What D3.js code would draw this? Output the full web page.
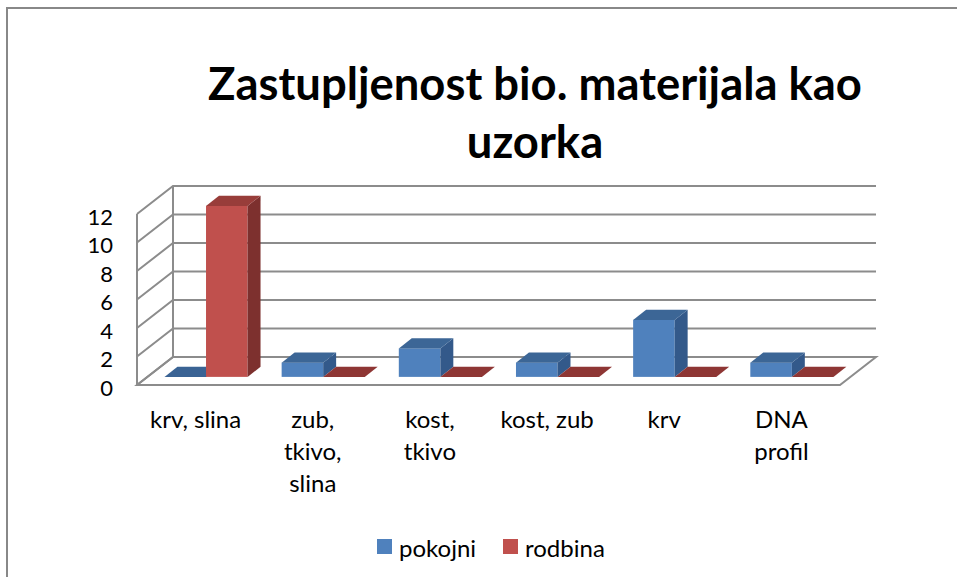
<!DOCTYPE html>
<html>
<head>
<meta charset="utf-8">
<script src="https://cdn.jsdelivr.net/npm/d3@7"></script>
<style>
  body { margin: 0; background: #fff; }
  svg { display: block; }
  text { font-family: Lato, "Open Sans", sans-serif; fill: #000; }
</style>
</head>
<body>
<div id="chart"></div>
<script>
// data
var categories = ["krv, slina", "zub, tkivo, slina", "kost, tkivo", "kost, zub", "krv", "DNA profil"];
var seriesNames = ["pokojni", "rodbina"];
var pokojni = [0, 1, 2, 1, 4, 1];
var rodbina = [12, 0, 0, 0, 0, 0];
var yTicks = [0, 2, 4, 6, 8, 10, 12];
var titleLines = ["Zastupljenost bio. materijala kao", "uzorka"];

var w = 957, h = 577;

// 3d box: front floor edge, and the shift towards the back wall
var floorLeft = 137, floorRight = 840;
var depthX = 36, depthY = 28;
var z1 = 0.29, z2 = 0.65;   // bar front / back planes

var colors = {
  pokojni: { front: "#4f81bd", top: "#3c6696", side: "#33598a", flat: "#3a6394" },
  rodbina: { front: "#c0504d", top: "#983d3a", side: "#7d302e", flat: "#8e3634" }
};

var svg = d3.select("#chart").append("svg")
            .attr("width", w)
            .attr("height", h);

// outer chart border (cut off at right and bottom)
svg.append("rect")
   .attr("x", 7).attr("y", 8)
   .attr("width", 1200).attr("height", 1200)
   .attr("fill", "#fff")
   .attr("stroke", "#888").attr("stroke-width", 2);

var y = d3.scaleLinear().domain([0, 12]).range([385, 214]);
var x0 = d3.scaleBand().domain(categories).range([floorLeft, floorRight]);
var x1 = d3.scaleBand().domain(seriesNames).range([0, x0.bandwidth()]).paddingInner(0).paddingOuter(0.41);

var proj = function(x, v, z) {
  return [x + z * depthX, y(v) - z * depthY];
};
var pts = function(list) {
  return list.map(function(p) { return p.join(","); }).join(" ");
};

var grid = svg.append("g")
              .attr("fill", "none")
              .attr("stroke", "#8c8c8c")
              .attr("stroke-width", 2);

// floor
grid.append("polygon")
    .attr("points", pts([proj(floorLeft, 0, 0), proj(floorRight, 0, 0), proj(floorRight, 0, 1), proj(floorLeft, 0, 1)]))
    .attr("fill", "#fff");

// left wall
grid.append("line")
    .attr("x1", proj(floorLeft, 0, 0)[0]).attr("y1", proj(floorLeft, 0, 0)[1])
    .attr("x2", proj(floorLeft, 12, 0)[0]).attr("y2", proj(floorLeft, 12, 0)[1]);
grid.append("line")
    .attr("x1", proj(floorLeft, 0, 1)[0]).attr("y1", proj(floorLeft, 0, 1)[1])
    .attr("x2", proj(floorLeft, 12, 1)[0]).attr("y2", proj(floorLeft, 12, 1)[1]);

yTicks.forEach(function(t) {
  var a = proj(floorLeft, t, 0), b = proj(floorLeft, t, 1), c = proj(floorRight, t, 1);
  grid.append("polyline").attr("points", pts([a, b, c]));
});

// y labels
svg.append("g").selectAll("text").data(yTicks).enter()
   .append("text")
   .attr("x", 113)
   .attr("y", function(d) { return y(d) + 2; })
   .attr("text-anchor", "end")
   .attr("dominant-baseline", "central")
   .style("font-size", "22px")
   .text(function(d) { return d; });

// bars
var bars = svg.append("g");
categories.forEach(function(cat, i) {
  var vals = { pokojni: pokojni[i], rodbina: rodbina[i] };
  seriesNames.forEach(function(s) {
    var v = vals[s];
    var xa = x0(cat) + x1(s);
    var xb = xa + x1.bandwidth();
    var c = colors[s];
    if (v > 0) {
      var f0 = proj(xa, v, z1), f1 = proj(xb, 0, z1);
      bars.append("rect")
          .attr("x", f0[0]).attr("y", f0[1])
          .attr("width", f1[0] - f0[0]).attr("height", f1[1] - f0[1])
          .attr("fill", c.front);
      bars.append("polygon")
          .attr("points", pts([proj(xb, v, z1), proj(xb, v, z2), proj(xb, 0, z2), proj(xb, 0, z1)]))
          .attr("fill", c.side);
      bars.append("polygon")
          .attr("points", pts([proj(xa, v, z1), proj(xb, v, z1), proj(xb, v, z2), proj(xa, v, z2)]))
          .attr("fill", c.top);
    } else {
      bars.append("polygon")
          .attr("points", pts([proj(xa, 0, z1), proj(xb, 0, z1), proj(xb, 0, z2), proj(xa, 0, z2)]))
          .attr("fill", c.flat);
    }
  });
});

// category labels, wrapped to the category width
var wrap = function(sel, maxW) {
  sel.each(function(d) {
    var t = d3.select(this);
    var words = d.split(" ");
    var lines = [], line = [];
    t.text(null);
    var probe = t.append("tspan");
    words.forEach(function(wd) {
      line.push(wd);
      probe.text(line.join(" "));
      if (probe.node().getComputedTextLength() > maxW && line.length > 1) {
        line.pop();
        lines.push(line.join(" "));
        line = [wd];
      }
    });
    lines.push(line.join(" "));
    probe.remove();
    lines.forEach(function(l, k) {
      t.append("tspan")
       .attr("x", t.attr("x"))
       .attr("dy", k === 0 ? 0 : 32)
       .text(l);
    });
  });
};

svg.append("g").selectAll("text").data(categories).enter()
   .append("text")
   .attr("x", function(d) { return x0(d) + x0.bandwidth() / 2; })
   .attr("y", 428)
   .attr("text-anchor", "middle")
   .style("font-size", "24px")
   .call(wrap, 100);

// title, fitted to the width it has in the original
var title = svg.append("g");
var t0 = title.append("text")
              .attr("x", 535).attr("y", 100)
              .attr("text-anchor", "middle")
              .style("font-weight", "bold")
              .style("font-size", "44px")
              .text(titleLines[0]);
var fs = 44 * 654 / t0.node().getComputedTextLength();
t0.style("font-size", fs + "px");
title.append("text")
     .attr("x", 535).attr("y", 158)
     .attr("text-anchor", "middle")
     .style("font-weight", "bold")
     .style("font-size", fs + "px")
     .text(titleLines[1]);

// legend
var legendX = [377, 503];
var legend = svg.append("g").selectAll("g").data(seriesNames).enter()
                .append("g")
                .attr("transform", function(d, i) { return "translate(" + legendX[i] + ",539)"; });
legend.append("rect")
      .attr("width", 15).attr("height", 15)
      .attr("fill", function(d) { return colors[d].front; });
legend.append("text")
      .attr("x", 22).attr("y", 8)
      .attr("dominant-baseline", "central")
      .style("font-size", "24px")
      .text(function(d) { return d; });
</script>
</body>
</html>
